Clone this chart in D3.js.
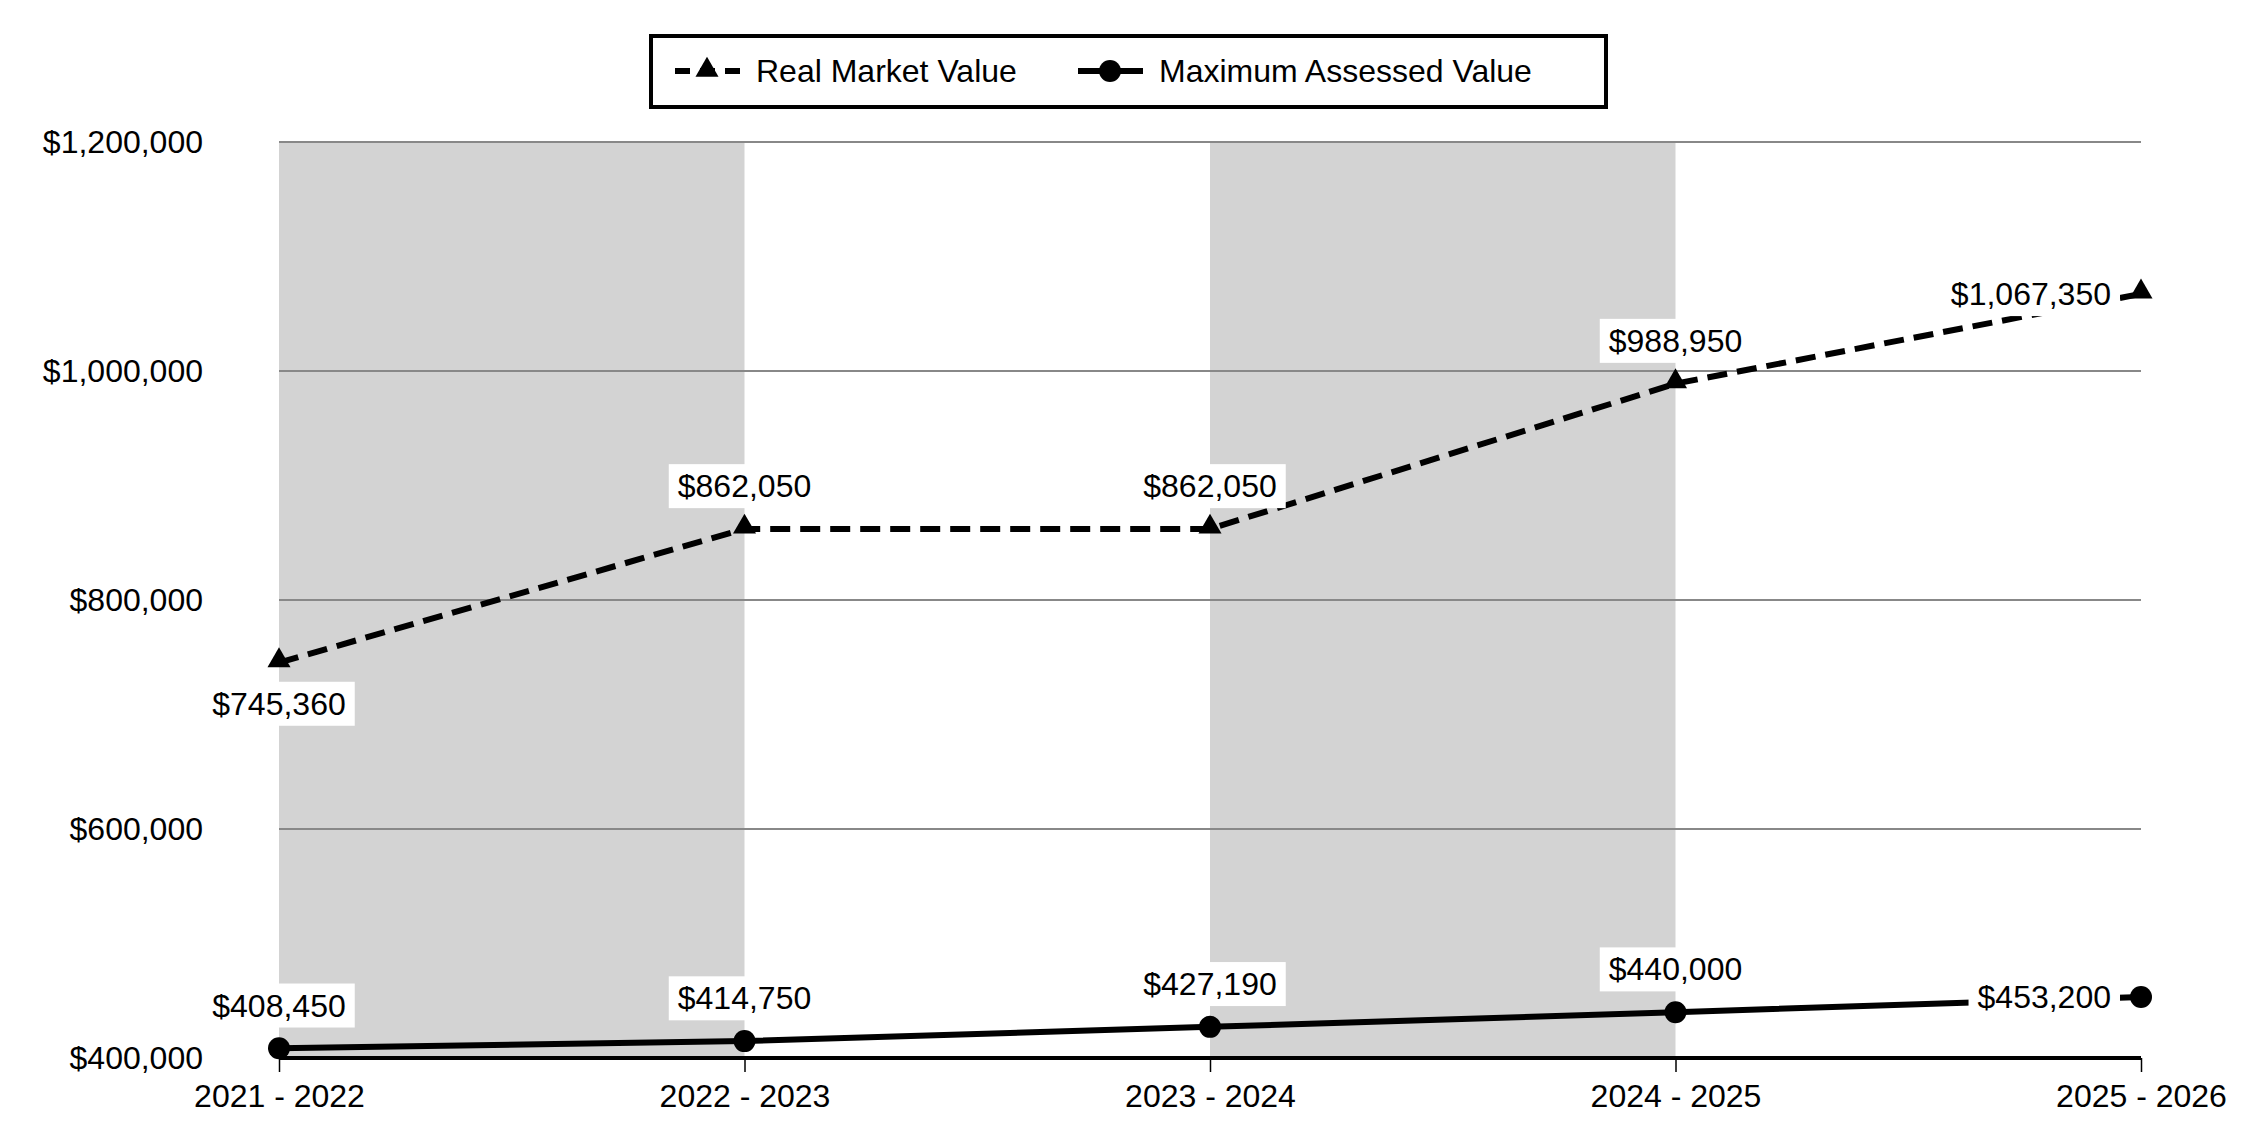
<!DOCTYPE html>
<html>
<head>
<meta charset="utf-8">
<script src="https://cdn.jsdelivr.net/npm/d3@7"></script>
<style>
  body { margin: 0; background: #fff; }
  text { font-family: Arial, "Liberation Sans", sans-serif; fill: #000; }
</style>
</head>
<body>
<div id="chart"></div>
<script>
// values
var years = ['2021 - 2022', '2022 - 2023', '2023 - 2024', '2024 - 2025', '2025 - 2026'];
var realMarket = [745360, 862050, 862050, 988950, 1067350];
var maxAssessed = [408450, 414750, 427190, 440000, 453200];
var yTicks = [400000, 600000, 800000, 1000000, 1200000];
var rmvLabelSide = ['below', 'above', 'above', 'above', 'left'];
var mavLabelSide = ['above', 'above', 'above', 'above', 'left'];
var shadedBands = [[0, 1], [2, 3]];

var width = 2250, height = 1140;
var plotLeft = 279, plotRight = 2141, plotTop = 142, plotBottom = 1058;
var fontSize = 32;

var svg = d3.select('#chart').append('svg')
    .attr('width', width)
    .attr('height', height);

var x = d3.scalePoint().domain(years).range([plotLeft, plotRight]).padding(0);
var y = d3.scaleLinear().domain([400000, 1200000]).range([plotBottom, plotTop]);
var money = function (v) { return '$' + d3.format(',')(v); };

// alternating shaded columns
svg.append('g').selectAll('rect')
    .data(shadedBands)
    .enter().append('rect')
    .attr('x', function (d) { return x(years[d[0]]); })
    .attr('width', function (d) { return x(years[d[1]]) - x(years[d[0]]); })
    .attr('y', y(1200000))
    .attr('height', y(400000) - y(1200000))
    .attr('fill', '#d3d3d3');

// gridlines
svg.append('g').selectAll('line')
    .data(yTicks.slice(1))
    .enter().append('line')
    .attr('x1', plotLeft).attr('x2', plotRight)
    .attr('y1', function (d) { return y(d); })
    .attr('y2', function (d) { return y(d); })
    .attr('stroke', '#888')
    .attr('stroke-width', 2);

// y axis labels
var yAxis = svg.append('g')
    .attr('transform', 'translate(' + plotLeft + ',0)')
    .call(d3.axisLeft(y).tickValues(yTicks).tickFormat(money).tickSize(0).tickPadding(76));
yAxis.select('.domain').remove();
yAxis.selectAll('text')
    .style('font-size', fontSize + 'px')
    .style('font-family', 'Arial, "Liberation Sans", sans-serif')
    .attr('fill', '#000');

// x axis
var xAxis = svg.append('g')
    .attr('transform', 'translate(0,' + plotBottom + ')')
    .call(d3.axisBottom(x).tickSize(14).tickPadding(12));
xAxis.select('.domain')
    .attr('d', 'M' + plotLeft + ',0H' + plotRight)
    .attr('stroke', '#000')
    .attr('stroke-width', 4);
xAxis.selectAll('.tick line').attr('stroke', '#000').attr('stroke-width', 1.5);
xAxis.selectAll('text')
    .style('font-size', fontSize + 'px')
    .style('font-family', 'Arial, "Liberation Sans", sans-serif')
    .attr('fill', '#000');

var line = d3.line()
    .x(function (d, i) { return x(years[i]); })
    .y(function (d) { return y(d); });

var tri = d3.symbol().type(d3.symbolTriangle).size(230);

// real market value - dashed with triangles
svg.append('path')
    .datum(realMarket)
    .attr('d', line)
    .attr('fill', 'none')
    .attr('stroke', '#000')
    .attr('stroke-width', 6)
    .attr('stroke-dasharray', '20,10');

svg.append('g').selectAll('path')
    .data(realMarket)
    .enter().append('path')
    .attr('d', tri)
    .attr('transform', function (d, i) { return 'translate(' + x(years[i]) + ',' + (y(d) - 2) + ')'; })
    .attr('fill', '#000');

// maximum assessed value - solid with dots
svg.append('path')
    .datum(maxAssessed)
    .attr('d', line)
    .attr('fill', 'none')
    .attr('stroke', '#000')
    .attr('stroke-width', 6);

svg.append('g').selectAll('circle')
    .data(maxAssessed)
    .enter().append('circle')
    .attr('cx', function (d, i) { return x(years[i]); })
    .attr('cy', function (d) { return y(d); })
    .attr('r', 11)
    .attr('fill', '#000');

// value labels on white boxes
function renderLabels(values, sides) {
    var g = svg.append('g');
    values.forEach(function (v, i) {
        var px = x(years[i]), py = y(v);
        var lx = px, ly = py, anchor = 'middle';
        if (sides[i] === 'above') { ly = py - 43; }
        else if (sides[i] === 'below') { ly = py + 41; }
        else { lx = px - 30; anchor = 'end'; }
        var lg = g.append('g');
        var rect = lg.append('rect').attr('fill', '#fff');
        var t = lg.append('text')
            .attr('x', lx)
            .attr('y', ly)
            .attr('dy', '0.35em')
            .attr('text-anchor', anchor)
            .style('font-size', fontSize + 'px')
            .text(money(v));
        var bb = t.node().getBBox();
        rect.attr('x', bb.x - 9).attr('y', bb.y - 4)
            .attr('width', bb.width + 18).attr('height', bb.height + 8);
    });
}
renderLabels(realMarket, rmvLabelSide);
renderLabels(maxAssessed, mavLabelSide);

// legend
var legend = svg.append('g');
legend.append('rect')
    .attr('x', 651).attr('y', 36)
    .attr('width', 955).attr('height', 71)
    .attr('fill', '#fff')
    .attr('stroke', '#000')
    .attr('stroke-width', 4);

var ly0 = 71;
legend.append('line')
    .attr('x1', 675).attr('x2', 740)
    .attr('y1', ly0).attr('y2', ly0)
    .attr('stroke', '#000').attr('stroke-width', 6)
    .attr('stroke-dasharray', '15,10');
legend.append('path')
    .attr('d', tri)
    .attr('transform', 'translate(707,' + (ly0 - 1) + ')')
    .attr('fill', '#000');
legend.append('text')
    .attr('x', 756).attr('y', ly0).attr('dy', '0.35em')
    .style('font-size', fontSize + 'px')
    .text('Real Market Value');

legend.append('line')
    .attr('x1', 1078).attr('x2', 1143)
    .attr('y1', ly0).attr('y2', ly0)
    .attr('stroke', '#000').attr('stroke-width', 6);
legend.append('circle')
    .attr('cx', 1110).attr('cy', ly0).attr('r', 11)
    .attr('fill', '#000');
legend.append('text')
    .attr('x', 1159).attr('y', ly0).attr('dy', '0.35em')
    .style('font-size', fontSize + 'px')
    .text('Maximum Assessed Value');
</script>
</body>
</html>
